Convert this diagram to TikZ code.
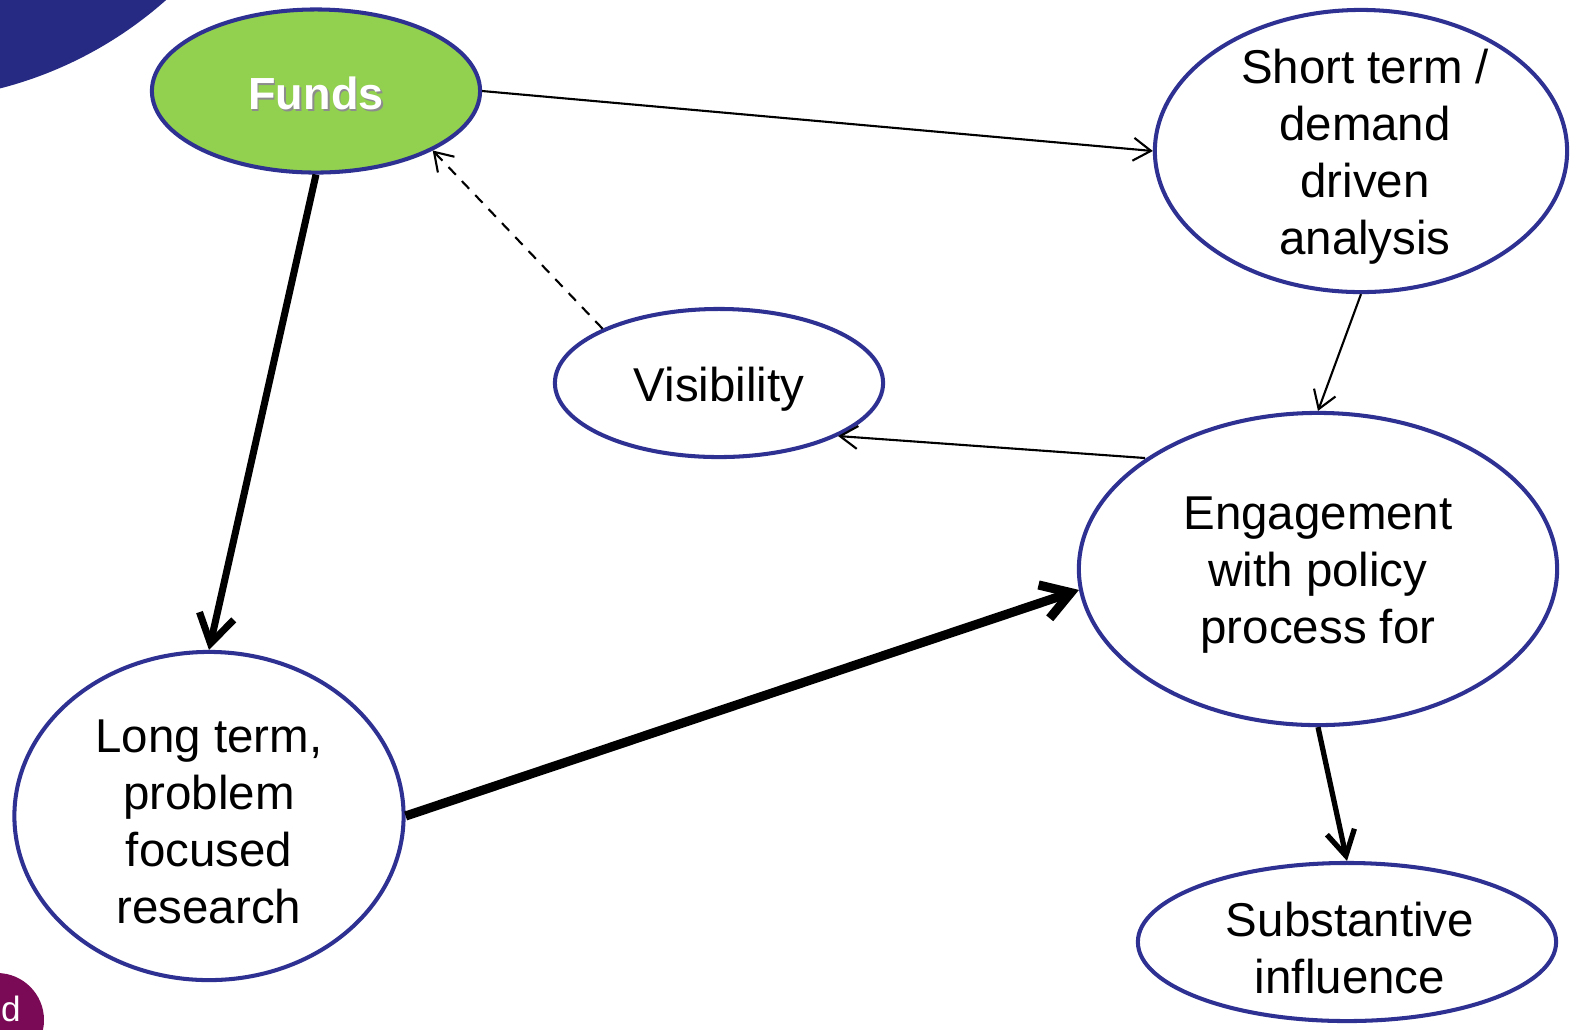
\documentclass[tikz,border=0pt]{standalone}
\usepackage{fontspec}
\setmainfont{Liberation Sans}
\usetikzlibrary{shapes.geometric,arrows.meta}
\definecolor{outl}{HTML}{2E3192}
\definecolor{fundsg}{HTML}{92D050}
\definecolor{cornerblue}{HTML}{262A82}
\definecolor{cornerpurple}{HTML}{7A0A55}
\tikzset{
  bub/.style={ellipse, draw=outl, line width=1.15pt, fill=white, inner sep=0pt},
  txt/.style={align=center, font=\fontsize{13.5}{16.2}\selectfont, text=black, yshift=-0.06cm},
  thin/.style={line width=0.6pt, -{Straight Barb[length=5pt,width=6.5pt]}},
  thick/.style={-{Straight Barb[length=8pt,width=10pt]}}
}
\begin{document}
\begin{tikzpicture}[x=0.01cm,y=-0.01cm]
\useasboundingbox (0,0) rectangle (1572,1029);
\begin{scope}
\clip (0,0) rectangle (1572,1029);
\fill[cornerblue] (-100,-300) circle (401);
\fill[cornerpurple] (-3,1020) circle (47);
\node[text=white, font=\fontsize{10}{10}\selectfont, anchor=base, inner sep=0pt] (dlet) at (11,1021) {d};
\end{scope}
% nodes
\node[bub, fill=fundsg, minimum width=3.28cm, minimum height=1.63cm] (funds) at (316,91) {};
\node[font=\fontsize{12.8}{14}\selectfont\bfseries, text=black!45] (fundsshadow) at (317.5,95.5) {Funds};
\node[font=\fontsize{12.8}{14}\selectfont\bfseries, text=white] (fundstxt) at (316,93.5) {Funds};
\node[bub, minimum width=4.12cm, minimum height=2.82cm, label={[txt,xshift=0.04cm]center:Short term /\\demand\\driven\\analysis}] (short) at (1361,151) {};
\node[bub, minimum width=3.28cm, minimum height=1.48cm, label={[txt]center:Visibility}] (vis) at (719,383) {};
\node[bub, minimum width=4.78cm, minimum height=3.12cm, label={[txt]center:Engagement\\with policy\\process for}] (eng) at (1318,569) {};
\node[bub, minimum width=3.89cm, minimum height=3.28cm, label={[txt]center:Long term,\\problem\\focused\\research}] (long) at (209,816) {};
\node[bub, minimum width=4.18cm, minimum height=1.58cm, label={[txt,xshift=0.03cm]center:Substantive\\influence}] (subst) at (1347,942) {};
% connectors
\draw[thin] (funds.east) -- (short.west);
\draw[thin] (short.south) -- (eng.north);
\draw[thin] (eng) ++(-173,-111) coordinate (engout) -- (vis.-24);
\draw[thin, dash pattern=on 3pt off 2.5pt] (vis.155) -- (funds.-27.5);
\draw[line width=2pt, thick] (funds.south) -- (long.north);
\draw[line width=2.6pt, thick] (long.east) -- (eng.185);
\draw[line width=1.5pt, -{Straight Barb[length=7pt,width=8pt]}] (eng.south) -- (subst.north);
\end{tikzpicture}
\end{document}
